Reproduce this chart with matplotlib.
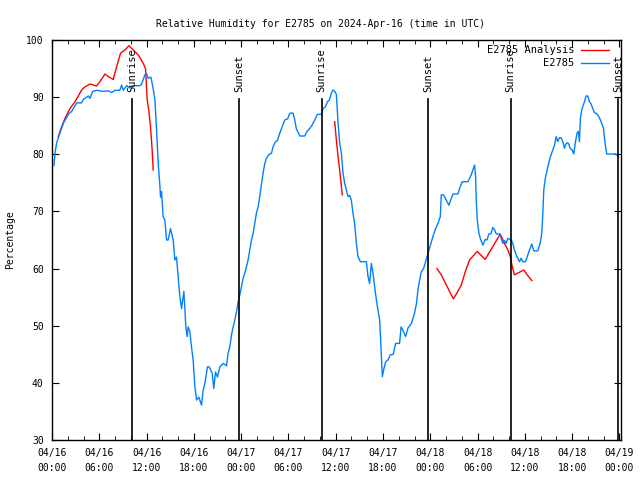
import numpy as np
import matplotlib.pyplot as plt

# hours since 2024-04-16 00:00 UTC
obs_hours = [0.25, 0.38, 0.59, 1.0, 1.44, 2.07, 2.49, 3.13, 3.76, 3.97, 4.6, 4.82, 5.16, 5.66,
             6.5, 7.14, 7.56, 7.99, 8.62, 8.83, 9.04, 9.47, 9.89, 10.3, 11.15, 11.37, 11.79,
             12.0, 12.2, 12.55, 12.84, 13.06, 13.27, 13.5, 13.69, 13.77, 13.9, 14.1, 14.32,
             14.54, 14.74, 15.04, 15.38, 15.59, 15.8, 16.0, 16.22, 16.44, 16.73, 16.86, 16.98,
             17.15, 17.28, 17.49, 17.7, 17.91, 18.13, 18.34, 18.63, 18.97, 19.18, 19.39, 19.73,
             19.94, 20.32, 20.53, 20.75, 21.0, 21.3, 21.72, 22.14, 22.35, 22.56, 22.78, 22.98,
             23.2, 23.41, 23.62, 23.83, 24.04, 24.25, 24.46, 24.67, 24.88, 25.1, 25.31, 25.52,
             25.73, 25.94, 26.15, 26.36, 26.57, 26.78, 27.0, 27.21, 27.5, 27.85, 28.05, 28.35,
             28.6, 28.9, 29.2, 29.53, 29.9, 30.17, 30.6, 30.8, 31.0, 31.44, 32.07, 32.4, 32.7,
             33.0, 33.34, 33.68, 34.18, 34.39, 34.7, 34.95, 35.2, 35.45, 35.66, 35.87, 36.08,
             36.29, 36.5, 36.72, 36.93, 37.14, 37.35, 37.56, 37.77, 37.98, 38.19, 38.4, 38.62,
             38.83, 39.13, 39.89, 40.1, 40.3, 40.52, 40.73, 40.94, 41.16, 41.36, 41.58, 41.7,
             41.83, 41.92, 42.08, 42.34, 42.63, 42.93, 43.3, 43.6, 44.1, 44.3, 44.6, 44.87,
             45.17, 45.6, 46.0, 46.25, 46.43, 46.65, 46.86, 47.15, 47.4, 47.7, 48.0, 48.33,
             48.67, 48.97, 49.27, 49.4, 49.69, 50.03, 50.36, 50.6, 50.87, 51.5, 51.72, 52.06,
             52.77, 52.98, 53.2, 53.4, 53.62, 53.75, 53.83, 53.96, 54.17, 54.34, 54.67, 54.97,
             55.2, 55.43, 55.7, 55.94, 56.15, 56.37, 56.79, 57.0, 57.21, 57.42, 57.63, 57.84,
             58.27, 58.47, 58.68, 58.9, 59.1, 59.32, 59.53, 59.74, 60.08, 60.37, 60.59, 60.88,
             61.14, 61.64, 61.94, 62.15, 62.28, 62.4, 62.6, 62.83, 63.03, 63.25, 63.54, 63.76,
             63.97, 64.18, 64.39, 64.6, 64.82, 65.03, 65.15, 65.33, 65.54, 65.75, 66.0, 66.2,
             66.4, 66.62, 66.79, 66.93, 67.05, 67.26, 67.47, 67.77, 67.98, 68.2, 68.41, 68.62,
             68.83, 69.13, 69.38, 69.68, 69.98, 70.18, 70.39, 70.94, 71.57, 71.9]
obs_rh = [78, 80.2, 82, 83.7, 85.4, 87, 87.5, 89, 89, 89.6, 90.2, 89.8, 91, 91.2,
          91, 91.1, 90.8, 91.2, 91.2, 92.1, 91.2, 92, 91.6, 92, 92, 92.3, 93.9,
          94.1, 93.3, 93.5, 91.5, 89.5, 84.2, 78, 74.5, 72.5, 73.5, 69.1, 68.5,
          65, 65, 67, 65, 61.5, 62, 58.6, 55.1, 53, 56, 53, 49.8,
          48.1, 49.8, 49, 46.3, 44, 39.3, 37, 37.5, 36.1, 38.75, 39.9, 42.8,
          42.8, 41.7, 39, 41.9, 41, 42.8, 43.4, 43, 45.2, 46.3, 48.4, 49.8,
          51, 52.45, 54.2, 55.4, 56.8, 58.3, 59.2, 60.3, 61.5, 63.25, 65, 66.2,
          67.9, 69.7, 70.8, 72.6, 74.6, 76.7, 78.4, 79.3, 79.9, 80.2, 81.3, 82.2,
          82.4, 83.7, 84.8, 86, 86.2, 87.2, 87.2, 86, 84.5, 83.2, 83.2, 84.1, 84.5,
          85.1, 86, 87, 87, 88, 88.3, 89.2, 89.5, 90.7, 91.25, 91, 90.5,
          85.7, 82, 80.2, 76.7, 74.9, 73.75, 72.6, 72.8, 72, 69.7, 67.9, 64.4,
          62.1, 61.2, 61.2, 58.6, 57.4, 60.9, 59.2, 56.8, 54.5, 52.75, 51, 47.5,
          43.4, 41.1, 42.25, 43.7, 44, 44.9, 45, 46.9, 46.9, 49.8, 49, 48.1,
          49.6, 50.4, 52.2, 53.9, 56.25, 58, 59.45, 60, 61.2, 62.7, 64.1, 65.6,
          67.0, 67.9, 69.1, 72.9, 72.9, 72, 71.1, 72, 73.05, 73.05, 74.05, 75.2,
          75.2, 75.8, 76.4, 77.25, 78.1, 76.1, 72, 68.5, 66.2, 65.3, 64.1, 65.1,
          65, 66.05, 66.1, 67.2, 66.8, 66.05, 66.05, 65.3, 64.4, 64.9, 64.4, 65.3,
          65, 64.4, 63.25, 62.4, 61.8, 61.2, 61.8, 61.2, 61.2, 62.4, 63.25, 64.3,
          63.1, 63.1, 64.4, 66.2, 69.7, 73.75, 75.8, 77.25, 78.5, 79.6, 80.75, 81.6,
          83.1, 82.2, 82.9, 82.9, 82.2, 81.05, 81.6, 82.0, 81.9, 81.05, 80.75, 80.05,
          82, 83.7, 84, 82.2, 86.3, 88.0, 88.8, 90.2, 90.2, 89.2, 88.8, 88.0,
          87.3, 87.1, 86.6, 85.7, 84.5, 81.9, 80.05, 80.05, 80.05, 79.5]

# analysis series, gaps marked with nan
ana_hours = [0.8, 1.22, 1.65, 2.28, 2.92, 3.76, 4.18, 4.82, 5.66, 6.08, 6.72, 7.14, 7.77,
             8.2, 8.7, 9.25, 9.76, 10.3, 10.94, 11.58, 11.87, 12.08, 12.3, 12.5, 12.71, 12.84,
             np.nan,
             35.87, 36.08, 36.3, 36.5, 36.72, 36.84,
             np.nan,
             48.84, 49.4, 49.94, 50.45, 50.92, 51.38, 51.93, 52.44, 52.98, 53.96, 54.97,
             55.43, 56.0, 56.87, 57.42, 57.84, 58.15, 58.36, 58.68, 59.1, 59.86, 60.3, 60.88]
ana_rh = [83.1, 84.8, 86.3, 88.0, 89.2, 91.25, 91.8, 92.3, 91.95, 92.7, 94.05, 93.6, 93.1,
          95.3, 97.7, 98.25, 99.0, 98.25, 97.4, 95.9, 95.0, 89.5, 87.5, 84.8, 80.75, 77.25,
          np.nan,
          85.7, 82.5, 79.6, 77.25, 74.3, 72.9,
          np.nan,
          60, 58.9, 57.4, 56, 54.7, 55.7, 57.1, 59.45, 61.5, 63, 61.6,
          62.7, 64.0, 66.05, 64.4, 63.25, 62.1, 60.6, 58.9, 59.2, 59.75, 58.9, 57.9]

sun_hours = [10.2, 23.7, 34.2, 47.75, 58.2, 71.85]
sun_names = ['Sunrise', 'Sunset', 'Sunrise', 'Sunset', 'Sunrise', 'Sunset']

tick_hours = list(range(0, 73, 6))
tick_labels = ['04/16\n00:00', '04/16\n06:00', '04/16\n12:00', '04/16\n18:00',
               '04/17\n00:00', '04/17\n06:00', '04/17\n12:00', '04/17\n18:00',
               '04/18\n00:00', '04/18\n06:00', '04/18\n12:00', '04/18\n18:00',
               '04/19\n00:00']

plt.rcParams['font.family'] = 'DejaVu Sans Mono'
plt.rcParams['font.size'] = 7

fig = plt.figure(figsize=(6.4, 4.8), dpi=100)
ax = fig.add_axes([52 / 640, 40 / 480, 569 / 640, 400 / 480])

red = '#ff0000'
blue = '#0080ff'
ax.plot(ana_hours, ana_rh, color=red, lw=1.0)
ax.plot(obs_hours, obs_rh, color=blue, lw=1.0)

# sunrise / sunset markers
for h, name in zip(sun_hours, sun_names):
    ax.axvline(h, ymin=0, ymax=0.853, color='black', lw=1.2, zorder=5)
    ax.text(h, 0.87, name, transform=ax.get_xaxis_transform(), rotation=90,
            ha='center', va='bottom', fontsize=7.5)

ax.set_xlim(0, 72.2)
ax.set_ylim(30, 100)
ax.set_xticks(tick_hours)
ax.set_xticklabels(tick_labels, linespacing=1.55)
ax.set_xticks(range(0, 73, 2), minor=True)
ax.set_yticks(range(30, 101, 10))
ax.tick_params(direction='in', top=True, right=True, which='both', labelsize=7)
ax.tick_params(which='major', length=5, pad=6)
ax.tick_params(which='minor', length=3)
for s in ax.spines.values():
    s.set_linewidth(1.0)

ax.set_ylabel('Percentage', fontsize=7, labelpad=8)
fig.suptitle('Relative Humidity for E2785 on 2024-Apr-16 (time in UTC)', fontsize=7, y=0.96)

# key, gnuplot style (text right aligned, sample on the right)
ax.text(0.918, 0.974, 'E2785 Analysis', transform=ax.transAxes, ha='right', va='center', fontsize=7.5)
ax.plot([0.930, 0.979], [0.974, 0.974], transform=ax.transAxes, color=red, lw=1.0)
ax.text(0.918, 0.943, 'E2785', transform=ax.transAxes, ha='right', va='center', fontsize=7.5)
ax.plot([0.930, 0.979], [0.943, 0.943], transform=ax.transAxes, color=blue, lw=1.0)

fig.savefig('out.png', dpi=100)
